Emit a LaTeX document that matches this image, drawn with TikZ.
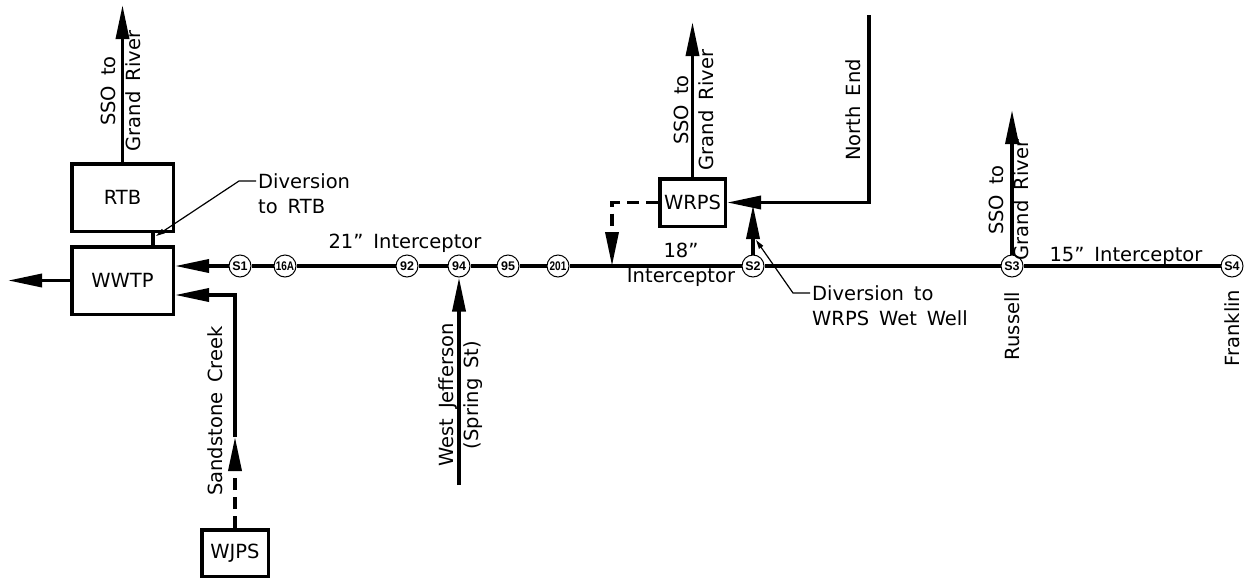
\documentclass[tikz,border=0pt]{standalone}
\usepackage{fontspec}
\setmainfont{DejaVu Sans}[WordSpace=1.6]
\newfontfamily\mhfont{Liberation Sans}
\usetikzlibrary{arrows.meta}
\begin{document}
\begin{tikzpicture}[x=1pt,y=-1pt,
  pipe/.style={line width=3.5pt},
  flow/.style={pipe,-{Triangle[length=34pt,width=13pt]}},
  dashpipe/.style={pipe,dash pattern=on 12pt off 7pt,-{Triangle[length=34pt,width=13pt]}},
  leader/.style={line width=1.2pt,-{Triangle[length=9pt,width=5pt]}},
  unit/.style={draw,line width=3.5pt,font=\fontsize{19.5}{20}\selectfont,inner sep=0pt},
  mh/.style={circle,draw,line width=1pt,fill=white,minimum size=22pt,inner sep=0pt,font=\mhfont\fontsize{12.5}{12.5}\selectfont\bfseries},
  lbl/.style={font=\fontsize{19.5}{25}\selectfont,inner sep=0pt},
  vlbl/.style={lbl,rotate=90,align=center}]
\useasboundingbox (0,0) rectangle (1249,581);
% units
\node[unit,minimum width=101.5pt,minimum height=67.5pt] (wwtp) at (122.5,280.5) {WWTP};
\node[unit,minimum width=101.5pt,minimum height=67.5pt] (rtb) at (122.5,197.5) {RTB};
\node[unit,minimum width=65.5pt,minimum height=47.5pt] (wrps) at (692.5,202.5) {WRPS};
\node[unit,minimum width=66.5pt,minimum height=46.5pt] (wjps) at (235,553) {WJPS};
% manholes
\node[mh] (s1) at (240,266) {S1};
\node[mh] (m16a) at (285,266) {\scalebox{0.8}[1]{16A}};
\node[mh] (m92) at (407,266) {92};
\node[mh] (m94) at (459,266) {94};
\node[mh] (m95) at (508,266) {95};
\node[mh] (m201) at (558,266) {\scalebox{0.8}[1]{201}};
\node[mh] (s2) at (753,266) {S2};
\node[mh] (s3) at (1012,266) {S3};
\node[mh] (s4) at (1232,266) {S4};
% free ends
\coordinate (jn) at (612,266);
\coordinate (ssoL) at (122,5);
\coordinate (ssoW) at (693,22);
\coordinate (ssoR) at (1012,110);
\coordinate (ne) at (869,15);
\coordinate (wj) at (459,485);
\coordinate (sc) at (235,437);
\coordinate (out) at (8,280.5);
\coordinate (d2) at (753,205);
\coordinate (ldrAend) at (156,236);
\coordinate (ldrBend) at (756,240);
% main interceptor
\draw[pipe] (s4) -- (s3) -- (s2) -- (m201) -- (m95) -- (m94) -- (m92) -- (m16a) -- (s1);
\draw[flow] (s1) -- (s1 -| wwtp.east);
% branches
\draw[flow] (wwtp.west) -- (out);
\draw[flow] (rtb.north) -- (rtb.north |- ssoL);
\draw[pipe] ([xshift=30.5pt]rtb.south) -- ([xshift=30.5pt]wwtp.north);
\draw[flow] (wrps.north) -- (wrps.north |- ssoW);
\draw[dashpipe] (wrps.west) -| (jn);
\draw[flow] (ne) |- (wrps.east);
\draw[flow] (s2) -- (d2);
\draw[flow] (s3) -- (ssoR);
\draw[flow] (wj) -- (m94);
\draw[dashpipe] (wjps.north) -- (sc);
\draw[flow] (sc) |- ([yshift=-14.5pt]wwtp.east);
% labels
\node[lbl,anchor=north west,align=left] (tdrtb) at (258,173) {Diversion\\to RTB};
\draw[leader] ([shift={(-2,8)}]tdrtb.north west) -- ++(-17,0) -- (ldrAend);
\node[lbl,anchor=north west,align=left] (tdw) at (812,285) {Diversion to\\WRPS Wet Well};
\draw[leader] ([shift={(-2,8)}]tdw.north west) -- ++(-17,0) -- (ldrBend);
\node[lbl] (t21) at (405,243) {21” Interceptor};
\node[lbl,align=center] (t18) at (681,265) {18”\\Interceptor};
\node[lbl] (t15) at (1126,256) {15” Interceptor};
\node[vlbl] (tsso1) at (121,91) {SSO to\\Grand River};
\node[vlbl] (tsso2) at (694,110) {SSO to\\Grand River};
\node[vlbl] (tsso3) at (1009,200) {SSO to\\Grand River};
\node[vlbl] (tne) at (853,110) {North End};
\node[vlbl] (twj) at (460.5,395) {West Jefferson\\(Spring St)};
\node[vlbl] (tsc) at (215,411) {Sandstone Creek};
\node[vlbl] (tru) at (1012,326) {Russell};
\node[vlbl] (tfr) at (1232,328) {Franklin};
\end{tikzpicture}
\end{document}
